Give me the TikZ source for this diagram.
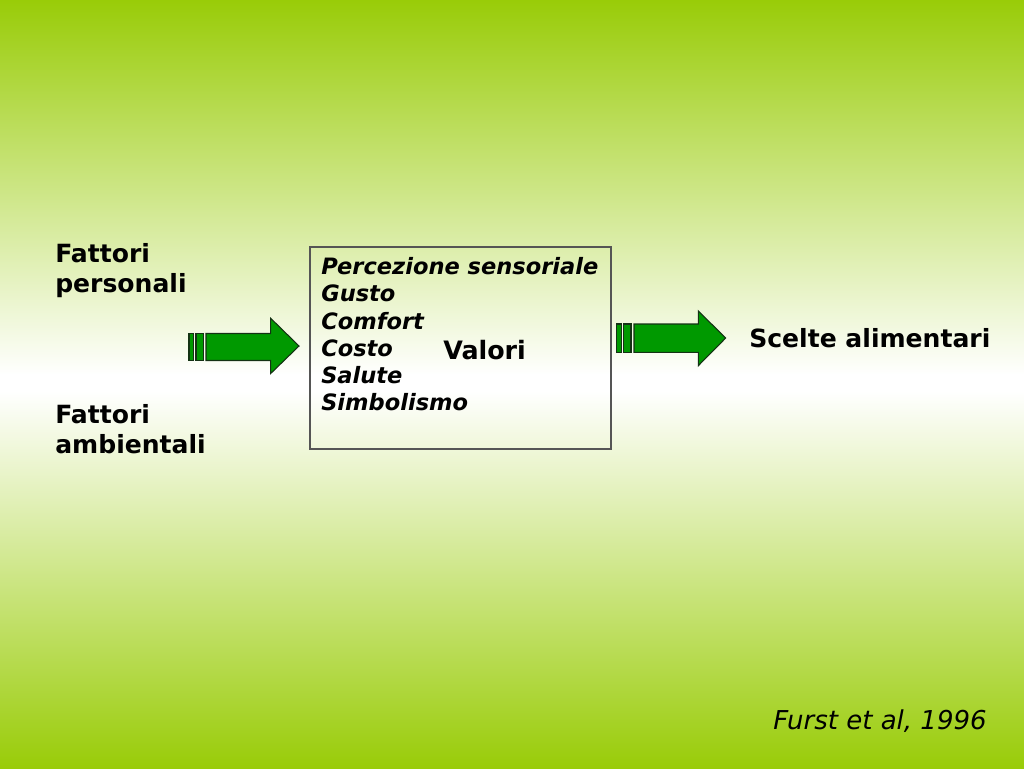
\documentclass[tikz,border=0pt]{standalone}
\usepackage{fontspec}
\setmainfont{DejaVu Sans}
\begin{document}
\begin{tikzpicture}[x=0.75pt,y=-0.75pt,
  lbl/.style={font=\fontsize{18.8}{22.5}\selectfont\bfseries, anchor=base west, inner sep=0pt, align=left, text=black},
  item/.style={font=\fontsize{16.9}{20.4}\selectfont\bfseries\itshape, anchor=base west, inner sep=0pt, align=left, text=black},
  blockarrow/.style={fill={rgb,255:red,0;green,153;blue,0}, draw={rgb,255:red,20;green,50;blue,20}, line width=0.8pt, line join=miter},
  frame/.style={draw={rgb,255:red,85;green,85;blue,85}, line width=0.9pt, fill=none}
]
\definecolor{bggreen}{RGB}{153,204,8}
\useasboundingbox (0,0) rectangle (1024,768);
\shade[top color=bggreen, bottom color=white] (0,0) rectangle (1024,375);
\fill[white] (0,374) rectangle (1024,392);
\shade[top color=white, bottom color=bggreen] (0,391) rectangle (1024,768);

% box
\node[frame, minimum width=301*0.75pt, minimum height=202*0.75pt, inner sep=0pt] (box) at (460.5,348) {};
\node[item] (items) at (321,410.7) {Percezione sensoriale\\Gusto\\Comfort\\Costo\\Salute\\Simbolismo};
\node[lbl, font=\fontsize{19}{22.5}\selectfont\bfseries] (valori) at (443,359) {Valori};

\node[lbl] (pers) at (55,292) {Fattori\\personali};
\node[lbl] (amb) at (55,453) {Fattori\\ambientali};
\node[lbl] (scelte) at (749,347.5) {Scelte alimentari};
\node[font=\fontsize{19.5}{22.5}\selectfont\itshape, anchor=base west, inner sep=0pt] (furst) at (773,729) {Furst et al, 1996};

% left arrow
\draw[blockarrow] (189,333.5) rectangle (193.5,360.5);
\draw[blockarrow] (196,333.5) rectangle (203.3,360.5);
\draw[blockarrow] (206,333.5) -- (270.7,333.5) -- (270.7,318.3) -- (299,346) -- (270.7,373.5) -- (270.7,360.5) -- (206,360.5) -- cycle;

% right arrow
\draw[blockarrow] (616.7,324) rectangle (621.7,352.3);
\draw[blockarrow] (623.7,324) rectangle (631,352.3);
\draw[blockarrow] (634,324) -- (698.3,324) -- (698.3,311) -- (725.7,338) -- (698.3,365.7) -- (698.3,352.3) -- (634,352.3) -- cycle;
\end{tikzpicture}
\end{document}
